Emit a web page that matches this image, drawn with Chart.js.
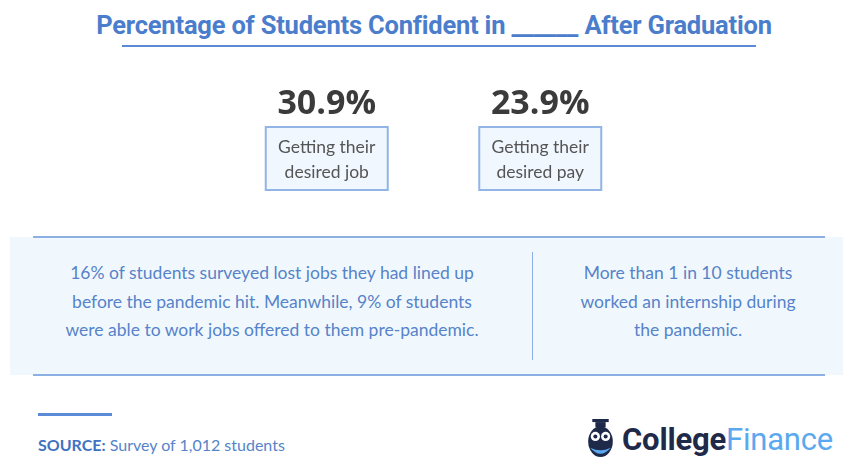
<!DOCTYPE html>
<html>
<head>
<meta charset="utf-8">
<script src="https://cdn.jsdelivr.net/npm/chart.js@4/dist/chart.umd.min.js"></script>
<style>
  html, body { margin: 0; padding: 0; background: #fff; }
  body { width: 843px; height: 459px; position: relative; overflow: hidden; font-family: Lato, sans-serif; }
  #title { position: absolute; top: 10px; left: 0; width: 868px; text-align: center; color: #4a7dcb;
           font-family: Roboto, sans-serif; font-weight: 700; font-size: 25.5px; letter-spacing: -0.2px; }
  #title-rule { position: absolute; top: 45px; left: 122px; width: 634px; height: 2px; background: #5b8bd6; }
  #stats { position: absolute; left: 220px; top: 81px; width: 427px; height: 120px; }
  #panel { position: absolute; left: 10px; top: 237px; width: 833px; height: 138px; background: #f1f8fd; }
  .rule { position: absolute; left: 33px; width: 792px; height: 2px; background: #8db0e4; }
  #divider { position: absolute; left: 532px; top: 252px; width: 1px; height: 108px; background: #8db0e4; }
  .note { position: absolute; top: 259px; text-align: center; color: #5683c9; font-size: 17.5px; line-height: 28.5px; }
  #src-rule { position: absolute; left: 38px; top: 413px; width: 74px; height: 3px; background: #5b8bd6; }
  #source { position: absolute; left: 38px; top: 435px; font-size: 16px; color: #5683c9; }
  #source b { color: #3f72c2; }
  #logo { position: absolute; left: 584px; top: 419px; height: 40px; display: flex; align-items: center; }
  #logo span { font-family: Roboto, sans-serif; font-size: 31px; letter-spacing: -0.2px; }
</style>
</head>
<body>
<div id="title">Percentage of Students Confident in ______ After Graduation</div>
<div id="title-rule"></div>

<div id="stats"><canvas id="statsChart" width="427" height="120"></canvas></div>

<div id="panel"></div>
<div class="rule" style="top:236px"></div>
<div class="rule" style="top:374px"></div>
<div id="divider"></div>
<div class="note" style="left:30px; width:484px">16% of students surveyed lost jobs they had lined up<br>before the pandemic hit. Meanwhile, 9% of students<br>were able to work jobs offered to them pre-pandemic.</div>
<div class="note" style="left:550px; width:276px">More than 1 in 10 students<br>worked an internship during<br>the pandemic.</div>

<div id="src-rule"></div>
<div id="source"><b>SOURCE:</b> Survey of 1,012 students</div>

<div id="logo">
  <svg width="33" height="40" viewBox="0 0 32 39">
    <rect x="8" y="0" width="16" height="3" fill="#1f2a4a"/>
    <rect x="11" y="3" width="10" height="5" fill="#1f2a4a"/>
    <ellipse cx="16" cy="22" rx="12" ry="15" fill="#1f2a4a"/>
    <circle cx="11" cy="17" r="4.5" fill="#fff"/>
    <circle cx="21" cy="17" r="4.5" fill="#fff"/>
    <circle cx="11" cy="17" r="2" fill="#1f2a4a"/>
    <circle cx="21" cy="17" r="2" fill="#1f2a4a"/>
    <path d="M6 28 Q16 40 26 28 Q16 33 6 28 Z" fill="#5aa9f0"/>
  </svg>
  <span style="font-weight:700; color:#1f2a4a; margin-left:5px">College</span><span style="color:#5aa9f0">Finance</span>
</div>

<script>
const categories = [['Getting their', 'desired job'], ['Getting their', 'desired pay']]
const confidentPct = [30.9, 23.9]

const statLabels = {
    id: 'statLabels',
    afterDatasetsDraw(chart) {
        const ctx = chart.ctx
        const meta = chart.getDatasetMeta(0)
        meta.data.forEach((bar, i) => {
            const x = bar.x
            ctx.save()
            ctx.textAlign = 'center'
            ctx.textBaseline = 'middle'
            ctx.fillStyle = '#3b3b3b'
            ctx.font = '700 34px "Open Sans", sans-serif'
            ctx.fillText(confidentPct[i].toFixed(1) + '%', x, 23)

            const w = 122, h = 63, top = 46
            ctx.fillStyle = '#f0f7fe'
            ctx.fillRect(x - w / 2, top, w, h)
            ctx.strokeStyle = '#92b5e6'
            ctx.lineWidth = 2
            ctx.strokeRect(x - w / 2, top, w, h)

            ctx.fillStyle = '#555'
            ctx.font = '17.5px Lato, sans-serif'
            categories[i].forEach((line, j) => {
                ctx.fillText(line, x, top + 20 + j * 25)
            })
            ctx.restore()
        })
    }
}

new Chart(document.getElementById('statsChart'), {
    type: 'bar',
    data: {
        labels: categories,
        datasets: [{
            data: confidentPct,
            backgroundColor: 'rgba(0,0,0,0)'
        }]
    },
    options: {
        responsive: false,
        animation: false,
        layout: { padding: 0 },
        plugins: { legend: { display: false }, tooltip: { enabled: false } },
        scales: {
            x: { display: false },
            y: { display: false, min: 0, max: 100 }
        }
    },
    plugins: [statLabels]
})
</script>
</body>
</html>
